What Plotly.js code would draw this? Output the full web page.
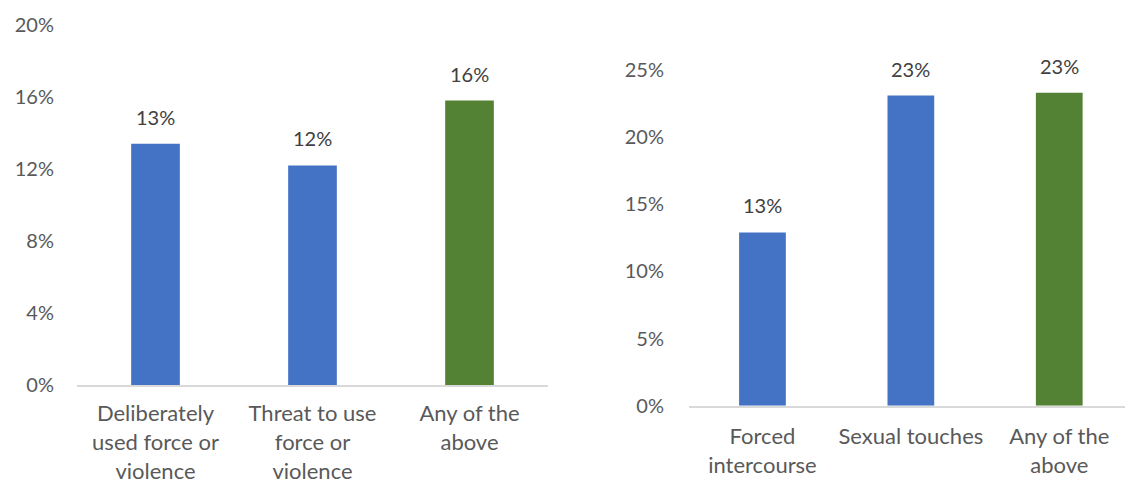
<!DOCTYPE html>
<html>
<head>
<meta charset="utf-8">
<script src="https://cdn.plot.ly/plotly-3.0.1.min.js"></script>
<style>html,body{margin:0;padding:0;background:#fff;}#chart{width:1125px;height:483px;}</style>
</head>
<body>
<div id="chart"></div>
<script>
const leftCategories = ["Deliberately<br>used force or<br>violence", "Threat to use<br>force or<br>violence", "Any of the<br>above"];
const leftValues = [13.4, 12.2, 15.8];
const leftColors = ["#4472C4", "#4472C4", "#548235"];

const rightCategories = ["Forced<br>intercourse", "Sexual touches", "Any of the<br>above"];
const rightValues = [12.9, 23.1, 23.3];
const rightColors = ["#4472C4", "#4472C4", "#548235"];

const fontFam = "Lato, 'Open Sans', sans-serif";
const textColor = "#595959";

const traces = [
  {type: "bar", x: leftCategories, y: leftValues, marker: {color: leftColors}, width: 0.31,
   xaxis: "x", yaxis: "y", hoverinfo: "none"},
  {type: "bar", x: rightCategories, y: rightValues, marker: {color: rightColors}, width: 0.315,
   xaxis: "x2", yaxis: "y2", hoverinfo: "none"}
];

const annotations = [];
leftCategories.forEach((c, i) => annotations.push({
  x: c, y: leftValues[i], xref: "x", yref: "y", text: Math.round(leftValues[i]) + "%",
  showarrow: false, yanchor: "middle", yshift: 27, font: {family: fontFam, size: 20, color: "#404040"}
}));
rightCategories.forEach((c, i) => annotations.push({
  x: c, y: rightValues[i], xref: "x2", yref: "y2", text: Math.round(rightValues[i]) + "%",
  showarrow: false, yanchor: "middle", yshift: 27, font: {family: fontFam, size: 20, color: "#404040"}
}));

const yFont = {family: fontFam, size: 20, color: textColor};
const xFont = {family: fontFam, size: 22, color: textColor};

const layout = {
  width: 1125, height: 483,
  margin: {l: 0, r: 0, t: 0, b: 0},
  paper_bgcolor: "#fff", plot_bgcolor: "#fff",
  showlegend: false,
  font: {family: fontFam, color: textColor},
  xaxis: {domain: [77/1125, 548/1125], anchor: "y", showline: true, linecolor: "#D9D9D9", linewidth: 2,
          showgrid: false, zeroline: false, tickfont: xFont, ticks: "", range: [-0.5, 2.5], ticklabelstandoff: 8, fixedrange: true},
  yaxis: {domain: [(483-385)/483, (483-25)/483], anchor: "x", range: [0, 20], dtick: 4, tick0: 0, ticksuffix: "%",
          showgrid: false, zeroline: false, showline: false, tickfont: yFont, ticks: "", ticklabelstandoff: 22, fixedrange: true},
  xaxis2: {domain: [689/1125, 1], anchor: "y2", showline: true, linecolor: "#D9D9D9", linewidth: 2,
          showgrid: false, zeroline: false, tickfont: xFont, ticks: "", range: [-0.495, 2.443], ticklabelstandoff: 10, fixedrange: true},
  yaxis2: {domain: [(483-405.7)/483, (483-70)/483], anchor: "x2", range: [0, 25], dtick: 5, tick0: 0, ticksuffix: "%",
          showgrid: false, zeroline: false, showline: false, tickfont: yFont, ticks: "", ticklabelstandoff: 24, fixedrange: true},
  annotations: annotations
};

Plotly.newPlot("chart", traces, layout, {displayModeBar: false, staticPlot: true});
</script>
</body>
</html>
